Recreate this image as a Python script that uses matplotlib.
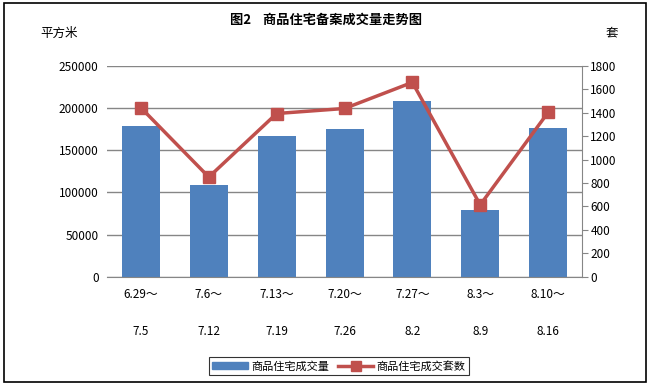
import matplotlib
matplotlib.use("Agg")
import matplotlib.pyplot as plt
from matplotlib.patches import Rectangle
from matplotlib.lines import Line2D
from matplotlib.patches import Patch

plt.rcParams['font.family'] = ['Noto Sans CJK SC', 'DejaVu Sans']

categories = ["6.29～\n7.5", "7.6～\n7.12", "7.13～\n7.19", "7.20～\n7.26",
              "7.27～\n8.2", "8.3～\n8.9", "8.10～\n8.16"]
area_values = [178600, 108300, 166700, 175000, 208300, 78600, 176200]
unit_values = [1443, 851, 1394, 1437, 1660, 614, 1403]
left_ticks = [0, 50000, 100000, 150000, 200000, 250000]
right_ticks = [0, 200, 400, 600, 800, 1000, 1200, 1400, 1600, 1800]

bar_color = "#4F81BD"
line_color = "#C0504D"
grid_color = "#868686"

fig = plt.figure(figsize=(6.51, 3.85), dpi=100)
ax = fig.add_axes([0.1644, 0.2813, 0.7296, 0.5473])
x = list(range(len(categories)))
ax.bar(x, area_values, width=0.56, color=bar_color, zorder=2)
ax.set_xlim(-0.5, len(categories) - 0.5)
ax.set_ylim(0, 250000)
ax.set_yticks(left_ticks)
ax.set_yticklabels([str(t) for t in left_ticks], fontsize=8.5)
ax.yaxis.grid(True, color=grid_color, linewidth=1)
ax.set_axisbelow(True)
ax.tick_params(axis='y', length=0, pad=6)
ax.set_xticks(x)
ax.set_xticklabels(categories, fontsize=8.5, linespacing=3.4)
ax.tick_params(axis='x', length=0, pad=8)
for s in ['top', 'left', 'right']:
    ax.spines[s].set_visible(False)
ax.spines['bottom'].set_color(grid_color)

ax2 = ax.twinx()
ax2.plot(x, unit_values, color=line_color, linewidth=2.5, marker='s',
         markersize=8, zorder=3)
ax2.set_ylim(0, 1800)
ax2.set_yticks(right_ticks)
ax2.set_yticklabels([str(t) for t in right_ticks], fontsize=8.5)
ax2.tick_params(axis='y', length=4, color=grid_color, pad=2)
for s in ['top', 'left', 'bottom']:
    ax2.spines[s].set_visible(False)
ax2.spines['right'].set_color(grid_color)

fig.text(0.5, 1 - 20/385, "图2    商品住宅备案成交量走势图", ha='center', va='center',
         fontsize=9.5, fontweight='bold')
fig.text(40/651, 1 - 33/385, "平方米", ha='left', va='center', fontsize=9)
fig.text(612/651, 1 - 33/385, "套", ha='center', va='center', fontsize=9)

handles = [Patch(color=bar_color),
           Line2D([0], [0], color=line_color, linewidth=2.5, marker='s', markersize=7)]
leg = fig.legend(handles, ["商品住宅成交量", "商品住宅成交套数"], loc='center',
                 bbox_to_anchor=(339/651, 1 - 366/385), ncol=2, fontsize=8,
                 frameon=True, fancybox=False, edgecolor='black',
                 handlelength=3.2, handletextpad=0.3, columnspacing=0.8,
                 borderpad=0.3)
leg.get_frame().set_linewidth(0.8)

fig.patches.append(Rectangle((4/651, 3/385), 642/651, 379/385, transform=fig.transFigure,
                             fill=False, edgecolor='black', linewidth=1.2))

fig.savefig("out.png", dpi=100)
